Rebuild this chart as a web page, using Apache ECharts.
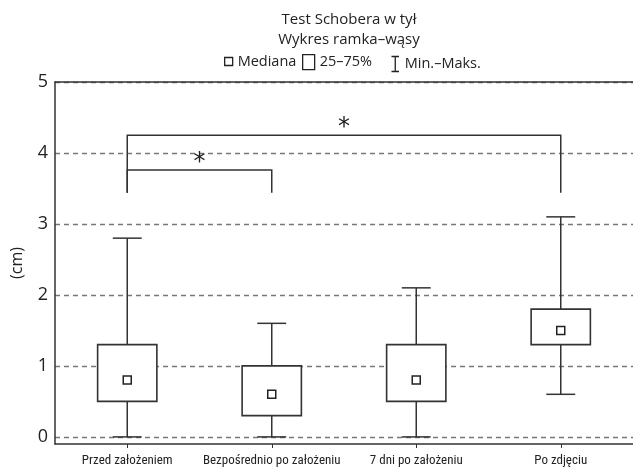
<!DOCTYPE html>
<html>
<head>
<meta charset="utf-8">
<script src="https://cdn.jsdelivr.net/npm/echarts@6/dist/echarts.min.js"></script>
<style>html,body{margin:0;padding:0;background:#fff}#c{width:633px;height:468px}</style>
</head>
<body>
<div id="c"></div>
<script>
const categories = ['Przed założeniem', 'Bezpośrednio po założeniu', '7 dni po założeniu', 'Po zdjęciu'];
const minVals = [0, 0, 0, 0.6];
const q1Vals = [0.5, 0.3, 0.5, 1.3];
const medianVals = [0.8, 0.6, 0.8, 1.5];
const q3Vals = [1.3, 1.0, 1.3, 1.8];
const maxVals = [2.8, 1.6, 2.1, 3.1];
const yTicks = [0, 1, 2, 3, 4, 5];
const bracketFrom = [0, 0];
const bracketTo = [1, 3];
const bracketTop = [3.76, 4.25];
const bracketFoot = [3.44, 3.44];
const bracketMark = ['*', '*'];

const LINE = '#333';
const FONT = '"Open Sans", "DejaVu Sans", sans-serif';
const NARROW = '"Roboto Condensed", "DejaVu Sans Condensed", sans-serif';

const boxData = categories.map((c, i) => [i, q1Vals[i], q3Vals[i]]);
const whiskerData = categories.map((c, i) => [i, minVals[i], maxVals[i], q1Vals[i], q3Vals[i]]);
const medianData = categories.map((c, i) => [i, medianVals[i]]);
const bracketData = bracketFrom.map((f, i) => [f, bracketTo[i], bracketTop[i], bracketFoot[i]]);

function renderBox(params, api) {
  const i = api.value(0);
  const a = api.coord([i, api.value(1)]);
  const b = api.coord([i, api.value(2)]);
  const w = api.size([1, 0])[0] * 0.41;
  return { type: 'rect', shape: { x: a[0] - w / 2, y: b[1], width: w, height: a[1] - b[1] },
    style: { fill: '#fff', stroke: LINE, lineWidth: 1.6 } };
}
function renderWhisker(params, api) {
  const i = api.value(0);
  const pMin = api.coord([i, api.value(1)]);
  const pMax = api.coord([i, api.value(2)]);
  const pQ1 = api.coord([i, api.value(3)]);
  const pQ3 = api.coord([i, api.value(4)]);
  const cw = api.size([1, 0])[0] * 0.2;
  const st = { stroke: LINE, lineWidth: 1.5 };
  return { type: 'group', children: [
    { type: 'line', shape: { x1: pMax[0], y1: pMax[1], x2: pQ3[0], y2: pQ3[1] }, style: st },
    { type: 'line', shape: { x1: pMin[0], y1: pMin[1], x2: pQ1[0], y2: pQ1[1] }, style: st },
    { type: 'line', shape: { x1: pMax[0] - cw / 2, y1: pMax[1], x2: pMax[0] + cw / 2, y2: pMax[1] }, style: st },
    { type: 'line', shape: { x1: pMin[0] - cw / 2, y1: pMin[1], x2: pMin[0] + cw / 2, y2: pMin[1] }, style: st }
  ] };
}
function renderBracket(params, api) {
  const f = api.value(0), t = api.value(1);
  const top = api.value(2), foot = api.value(3);
  const p1 = api.coord([f, foot]), p2 = api.coord([f, top]);
  const p3 = api.coord([t, top]), p4 = api.coord([t, foot]);
  return { type: 'group', children: [
    { type: 'polyline', shape: { points: [p1, p2, p3, p4] }, style: { stroke: LINE, lineWidth: 1.5, fill: null } },
    { type: 'text', x: (p2[0] + p3[0]) / 2, y: p2[1] + 5,
      style: { text: bracketMark[params.dataIndex], fontSize: 24, fontFamily: '"DejaVu Sans", sans-serif', fill: '#222', align: 'center', verticalAlign: 'bottom' } }
  ] };
}

const legendStyle = { color: '#fff', borderColor: '#222', borderWidth: 1.3 };
const legendText = { fontSize: 14.5, color: '#222', fontFamily: FONT };

const option = {
  animation: false,
  backgroundColor: '#fff',
  title: {
    text: 'Test Schobera w tył\nWykres ramka–wąsy',
    left: 344, top: 5, textAlign: 'center',
    textStyle: { fontSize: 15, fontWeight: 'normal', color: '#222', fontFamily: FONT, lineHeight: 20 }
  },
  legend: [
    { left: 219, top: 49, selectedMode: false, itemWidth: 8, itemHeight: 8, itemGap: 4, textStyle: legendText,
      data: [{ name: 'Mediana', icon: 'rect', itemStyle: legendStyle }] },
    { left: 297, top: 49, selectedMode: false, itemWidth: 12, itemHeight: 15, textStyle: legendText,
      data: [{ name: '25–75%', icon: 'rect', itemStyle: legendStyle }] },
    { left: 384, top: 49, selectedMode: false, itemWidth: 9, itemHeight: 15, itemGap: 3, textStyle: legendText,
      data: [{ name: 'Min.–Maks.', icon: 'path://M0,0H10M5,0V20M0,20H10', itemStyle: { color: 'none', borderColor: '#222', borderWidth: 1.3 } }] }
  ],
  grid: { left: 55, right: 0, top: 82, bottom: 24, outerBoundsMode: 'none', containLabel: false },
  xAxis: [{
    type: 'category', data: categories, position: 'bottom',
    axisLine: { onZero: false, lineStyle: { color: LINE, width: 1.5 } },
    axisTick: { show: true, alignWithLabel: true, length: 4, lineStyle: { color: LINE } },
    axisLabel: { fontSize: 13, color: '#222', fontFamily: NARROW, margin: 10, interval: 0 },
    splitLine: { show: false }
  }, {
    type: 'category', data: categories, position: 'top',
    axisLine: { onZero: false, lineStyle: { color: LINE, width: 1.5 } },
    axisTick: { show: false }, axisLabel: { show: false }, splitLine: { show: false }
  }],
  yAxis: {
    type: 'value', min: -0.1, max: 5,
    name: '(cm)', nameLocation: 'middle', nameGap: 30,
    nameTextStyle: { fontSize: 16, color: '#222', fontFamily: FONT },
    axisLine: { show: true, lineStyle: { color: LINE, width: 1.5 } },
    axisTick: { show: false, customValues: yTicks },
    axisLabel: { customValues: yTicks, fontSize: 18, color: '#222', fontFamily: FONT, margin: 7 },
    splitLine: { show: true, lineStyle: { color: '#777', type: [5, 4], width: 1.3 } }
  },
  series: [
    { name: 'Min.–Maks.', type: 'custom', renderItem: renderWhisker, data: whiskerData, encode: { x: 0, y: [1, 2, 3, 4] }, z: 2 },
    { name: '25–75%', type: 'custom', renderItem: renderBox, data: boxData, encode: { x: 0, y: [1, 2] }, z: 3 },
    { name: 'Mediana', type: 'scatter', data: medianData, symbol: 'rect', symbolSize: 8,
      itemStyle: { color: '#fff', borderColor: '#222', borderWidth: 1.5, opacity: 1 }, z: 4 },
    { name: 'brackets', type: 'custom', renderItem: renderBracket, data: bracketData, encode: { x: [0, 1], y: [2, 3] }, z: 5 }
  ]
};
echarts.init(document.getElementById('c'), null, { renderer: 'canvas' }).setOption(option);
</script>
</body>
</html>
